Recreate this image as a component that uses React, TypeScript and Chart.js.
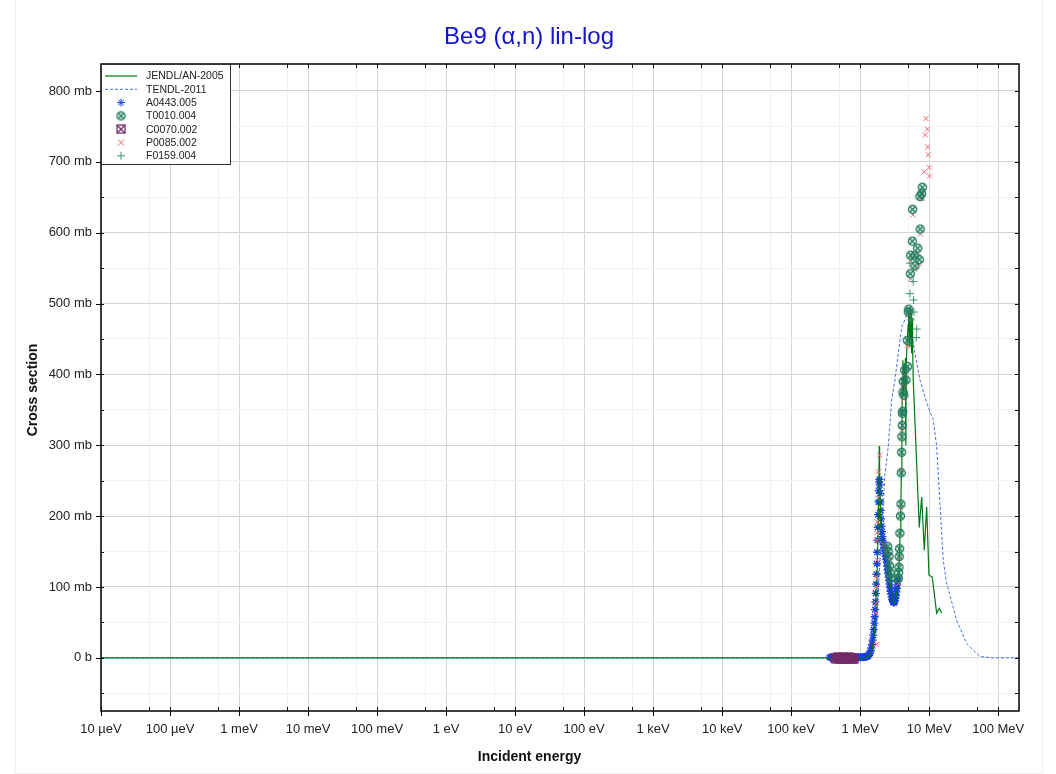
import React, { useEffect, useRef } from 'react';
import { Chart, registerables } from 'chart.js';

Chart.register(...registerables);

const FONT = "'Liberation Sans', Arial, Helvetica, sans-serif";

const titleText = 'Be9 (α,n) lin-log';
const xAxisTitle = 'Incident energy';
const yAxisTitle = 'Cross section';

// x axis (energy in eV)
const xMajorTicks = [1e-5, 1e-4, 1e-3, 1e-2, 1e-1, 1, 10, 100, 1e3, 1e4, 1e5, 1e6, 1e7, 1e8];
const xTickLabels = ['10 µeV', '100 µeV', '1 meV', '10 meV', '100 meV', '1 eV', '10 eV', '100 eV', '1 keV', '10 keV', '100 keV', '1 MeV', '10 MeV', '100 MeV'];
const xMinorTicks = [5e-5, 5e-4, 5e-3, 5e-2, 5e-1, 5, 50, 500, 5e3, 5e4, 5e5, 5e6, 5e7];
const xMin = 1e-5;
const xMax = 2e8;

// y axis (mb)
const yTicks = [-50, 0, 50, 100, 150, 200, 250, 300, 350, 400, 450, 500, 550, 600, 650, 700, 750, 800];
const yMin = -75;
const yMax = 838;

const seriesNames = ['JENDL/AN-2005', 'TENDL-2011', 'A0443.005', 'T0010.004', 'C0070.002', 'P0085.002', 'F0159.004'];

// JENDL/AN-2005 (energy MeV, cross section mb)
const jendlE = [1e-11, 1.0, 1.15, 1.25, 1.35, 1.45, 1.52, 1.58, 1.64, 1.70, 1.75, 1.80, 1.84, 1.87, 1.89, 1.91, 1.94, 1.98, 2.04, 2.12, 2.22, 2.32, 2.42, 2.5, 2.56, 2.62, 2.70, 2.80, 2.92, 3.05, 3.15, 3.28, 3.42, 3.55, 3.64, 3.72, 3.80, 3.88, 3.95, 4.02, 4.08, 4.15, 4.25, 4.35, 4.45, 4.52, 4.58, 4.66, 4.8, 4.95, 5.05, 5.15, 5.25, 5.35, 5.45, 5.55, 5.65, 5.75, 5.87, 7.18, 7.78, 8.48, 9.19, 9.91, 11.07, 12.83, 13.99, 15.1];
const jendlXS = [0, 0, 0.5, 1, 3, 8, 16, 28, 45, 75, 110, 160, 215, 260, 299, 270, 225, 190, 170, 162, 155, 150, 145, 152, 138, 125, 112, 98, 86, 79, 77, 82, 95, 110, 125, 150, 180, 215, 260, 310, 390, 420, 370, 415, 380, 423, 300, 420, 445, 470, 486, 440, 495, 450, 492, 430, 480, 440, 392, 184, 227, 152, 213, 117, 114, 63, 70, 63];

// TENDL-2011
const tendlE = [1e-11, 1.0, 1.26, 1.47, 1.73, 2.05, 2.29, 2.55, 2.86, 3.19, 3.99, 4.98, 6.22, 7.35, 8.69, 10.0, 11.46, 12.83, 15.96, 17.9, 25.0, 34.9, 54.3, 80, 200];
const tendlXS = [0, 0, 1, 6, 53, 180, 260, 298, 364, 392, 467, 488, 430, 392, 368, 350, 336, 298, 138, 105, 53, 20, 2, 0, 0];

// A0443.005
const a0443E = [0.36, 0.375, 0.39, 0.405, 0.42, 0.435, 0.45, 0.465, 0.48, 0.50, 0.52, 0.54, 0.56, 0.58, 0.60, 0.62, 0.645, 0.67, 0.695, 0.72, 0.745, 0.77, 0.80, 0.83, 0.86, 0.89, 0.92, 0.95, 0.985, 1.02, 1.055, 1.09, 1.125, 1.16, 1.195, 1.23,
  1.27, 1.31, 1.35, 1.39, 1.42, 1.45, 1.48, 1.51, 1.54, 1.57, 1.60, 1.62, 1.64, 1.66, 1.68, 1.70, 1.72, 1.74, 1.76, 1.78, 1.80, 1.82, 1.84, 1.86, 1.88, 1.90, 1.92, 1.94, 1.96, 1.98, 2.01, 2.04, 2.07, 2.10, 2.14, 2.18, 2.22, 2.26, 2.30, 2.34, 2.38, 2.42, 2.46, 2.50, 2.54, 2.58, 2.62, 2.66, 2.70, 2.75, 2.80, 2.85, 2.90, 2.95, 3.00, 3.05, 3.10, 3.15, 3.20, 3.25, 3.30, 3.35, 3.40, 3.45, 3.50, 3.55];
const a0443XS = [0.5, 0.8, 0.4, 1.0, 0.6, 0.9, 0.3, 0.7, 1.1, 0.5, 0.8, 0.4, 0.9, 0.6, 1.0, 0.5, 0.7, 0.8, 0.4, 0.9, 0.6, 1.0, 0.7, 0.5, 0.8, 0.6, 0.9, 0.7, 1.0, 0.8, 1.1, 1.0, 1.3, 1.2, 1.5, 1.7,
  2, 3, 5, 7, 10, 14, 19, 25, 32, 40, 49, 58, 68, 79, 91, 104, 118, 133, 149, 166, 184, 202, 220, 236, 248, 252, 244, 232, 220, 208, 196, 186, 178, 171, 165, 160, 155, 151, 147, 143, 139, 134, 129, 124, 119, 114, 109, 104, 99, 94, 90, 86, 83, 81, 79, 78, 78, 79, 81, 84, 88, 93, 98, 103, 108, 112];

// T0010.004
const t0010E = [2.50, 2.55, 2.61, 2.66, 2.72, 2.79, 3.56, 3.60, 3.64, 3.68, 3.72, 3.76, 3.83, 3.90, 3.93, 3.99, 4.03, 4.07, 4.10, 4.13, 4.17, 4.21, 4.27, 4.41, 4.60, 4.86, 4.81, 4.98, 5.05, 5.33, 5.38, 5.70, 5.75, 6.15, 6.22, 6.80, 7.18, 7.40, 7.35, 7.78, 7.93];
const t0010XS = [157, 150, 143, 130, 120, 112, 112, 120, 128, 143, 154, 176, 200, 217, 261, 290, 312, 328, 345, 348, 375, 390, 371, 406, 392, 411, 448, 488, 492, 542, 568, 588, 633, 567, 553, 578, 562, 605, 651, 655, 664];

// C0070.002
const c0070E = [0.43, 0.45, 0.47, 0.49, 0.51, 0.53, 0.55, 0.57, 0.59, 0.61, 0.63, 0.65, 0.67, 0.69, 0.71, 0.73, 0.75, 0.77, 0.79, 0.81];
const c0070XS = [0, -1, 1, 0, -2, 0, -1, 1, 0, -1, 0, -2, 0, 1, -1, 0, 0, -2, 0, -1];

// P0085.002
const p0085E = [1.73, 1.68, 1.69, 1.69, 1.71, 1.75, 1.75, 1.73, 1.77, 1.79, 1.83, 1.91, 2.2, 2.35, 2.52, 2.62, 3.58, 3.7, 3.86, 3.95, 4.05, 4.2, 4.3, 4.43, 4.85, 5.07, 5.35, 5.48, 5.78, 6.2, 6.85, 7.2, 7.45, 7.55, 7.9, 8.05, 8.48, 8.77, 8.98, 9.38, 9.47, 9.68, 10.0, 10.1];
const p0085XS = [19, 63, 77, 100, 114, 138, 166, 176, 192, 225, 263, 286, 160, 150, 150, 138, 105, 140, 212, 265, 322, 385, 365, 400, 440, 486, 535, 560, 625, 548, 572, 556, 598, 648, 648, 655, 686, 738, 761, 746, 721, 710, 692, 680];

// F0159.004
const f0159E = [5.26, 5.87, 5.26, 5.93, 6.01, 5.42, 6.58, 6.50];
const f0159XS = [557, 531, 514, 505, 488, 477, 464, 452];

const colors = {
  jendl: 'rgb(0,120,20)',
  tendl: 'rgb(70,110,230)',
  a0443: 'rgb(25,60,225)',
  t0010: 'rgb(35,125,95)',
  c0070: 'rgb(115,45,105)',
  p0085: 'rgb(240,100,115)',
  f0159: 'rgb(60,145,110)',
};

const toPts = (e: number[], v: number[]) => e.map((x, i) => ({ x: x * 1e6, y: v[i] }));
const isDecade = (v: number) => Math.abs(Math.log10(v) - Math.round(Math.log10(v))) < 1e-6;

function makeCircleX(color: string) {
  const c = document.createElement('canvas');
  c.width = 11; c.height = 11;
  const g = c.getContext('2d')!;
  g.strokeStyle = color; g.lineWidth = 1.5;
  g.beginPath(); g.arc(5.5, 5.5, 4, 0, Math.PI * 2); g.stroke();
  g.beginPath();
  g.moveTo(2.8, 2.8); g.lineTo(8.2, 8.2);
  g.moveTo(8.2, 2.8); g.lineTo(2.8, 8.2);
  g.stroke();
  return c;
}

function makeBoxX(color: string) {
  const c = document.createElement('canvas');
  c.width = 10; c.height = 10;
  const g = c.getContext('2d')!;
  g.strokeStyle = color; g.lineWidth = 1.3;
  g.strokeRect(1, 1, 8, 8);
  g.beginPath();
  g.moveTo(1, 1); g.lineTo(9, 9);
  g.moveTo(9, 1); g.lineTo(1, 9);
  g.stroke();
  return c;
}

export default function App() {
  const ref = useRef<HTMLCanvasElement | null>(null);

  useEffect(() => {
    const canvas = ref.current;
    if (!canvas) return;
    const circleX = makeCircleX(colors.t0010);
    const boxX = makeBoxX(colors.c0070);

    const drawStar = (g: CanvasRenderingContext2D, x: number, y: number, r: number, color: string) => {
      g.save(); g.strokeStyle = color; g.lineWidth = 1; g.beginPath();
      for (let k = 0; k < 4; k++) {
        const a = (k * Math.PI) / 4;
        g.moveTo(x - Math.cos(a) * r, y - Math.sin(a) * r);
        g.lineTo(x + Math.cos(a) * r, y + Math.sin(a) * r);
      }
      g.stroke(); g.restore();
    };
    const drawCross = (g: CanvasRenderingContext2D, x: number, y: number, r: number, color: string, rot: boolean) => {
      g.save(); g.strokeStyle = color; g.lineWidth = 1; g.beginPath();
      if (rot) {
        g.moveTo(x - r, y - r); g.lineTo(x + r, y + r);
        g.moveTo(x + r, y - r); g.lineTo(x - r, y + r);
      } else {
        g.moveTo(x - r, y); g.lineTo(x + r, y);
        g.moveTo(x, y - r); g.lineTo(x, y + r);
      }
      g.stroke(); g.restore();
    };

    const framePlugin = {
      id: 'frameTicksLegend',
      afterDraw(chart: any) {
        const g: CanvasRenderingContext2D = chart.ctx;
        const { left, right, top, bottom } = chart.chartArea;
        const xs = chart.scales.x;
        const ys = chart.scales.y;
        g.save();
        // faint outer frame
        g.strokeStyle = '#f0f0f0'; g.lineWidth = 1;
        g.beginPath();
        g.moveTo(15.5, 0); g.lineTo(15.5, 773.5); g.lineTo(1042.5, 773.5); g.lineTo(1042.5, 0);
        g.stroke();

        // title and axis titles
        g.fillStyle = 'rgb(20,20,205)';
        g.font = `24px ${FONT}`;
        g.textAlign = 'center';
        g.textBaseline = 'alphabetic';
        g.fillText(titleText, 529, 43.5);

        g.fillStyle = '#111';
        g.font = `bold 14px ${FONT}`;
        g.textBaseline = 'middle';
        g.fillText(xAxisTitle, 529.5, 757.5);
        g.save();
        g.translate(33, 390);
        g.rotate(-Math.PI / 2);
        g.fillText(yAxisTitle, 0, 0);
        g.restore();

        g.strokeStyle = '#000'; g.lineWidth = 1;
        g.beginPath();
        for (const v of xMajorTicks) {
          const p = Math.round(xs.getPixelForValue(v)) + 0.5;
          g.moveTo(p, bottom - 4); g.lineTo(p, bottom + 5);
          g.moveTo(p, top); g.lineTo(p, top + 4);
        }
        for (const v of xMinorTicks) {
          const p = Math.round(xs.getPixelForValue(v)) + 0.5;
          g.moveTo(p, bottom - 4); g.lineTo(p, bottom);
          g.moveTo(p, top); g.lineTo(p, top + 4);
        }
        for (const v of yTicks) {
          const p = Math.round(ys.getPixelForValue(v)) + 0.5;
          if (v % 100 === 0) {
            g.moveTo(left - 5, p); g.lineTo(left + 3, p);
            g.moveTo(right - 4, p); g.lineTo(right, p);
          } else {
            g.moveTo(left, p); g.lineTo(left + 3, p);
            g.moveTo(right - 4, p); g.lineTo(right, p);
          }
        }
        g.stroke();
        g.lineWidth = 1.5;
        g.strokeRect(left, top, right - left, bottom - top);

        // legend
        const lx = left, ly = top, lw = 129, lh = 100;
        g.fillStyle = '#fff';
        g.fillRect(lx, ly, lw, lh);
        g.strokeStyle = '#333'; g.lineWidth = 1;
        g.strokeRect(lx + 0.5, ly + 0.5, lw, lh);
        const cx = lx + 20;
        g.font = `10.5px ${FONT}`;
        g.textBaseline = 'middle';
        g.textAlign = 'left';
        seriesNames.forEach((name, i) => {
          const y = ly + 12 + i * 13.3;
          if (i === 0) {
            g.strokeStyle = colors.jendl; g.lineWidth = 1.2; g.setLineDash([]);
            g.beginPath(); g.moveTo(lx + 4, y); g.lineTo(lx + 36, y); g.stroke();
          } else if (i === 1) {
            g.strokeStyle = colors.tendl; g.lineWidth = 1; g.setLineDash([3, 2]);
            g.beginPath(); g.moveTo(lx + 4, y); g.lineTo(lx + 36, y); g.stroke();
            g.setLineDash([]);
          } else if (i === 2) {
            drawStar(g, cx, y, 4, colors.a0443);
          } else if (i === 3) {
            g.drawImage(circleX, cx - 5.5, y - 5.5);
          } else if (i === 4) {
            g.drawImage(boxX, cx - 5, y - 5);
          } else if (i === 5) {
            drawCross(g, cx, y, 3, colors.p0085, true);
          } else {
            drawCross(g, cx, y, 4, colors.f0159, false);
          }
          g.fillStyle = '#222';
          g.fillText(name, lx + 45, y + 0.5);
        });
        g.restore();
      },
    };

    const chart = new Chart(canvas, {
      type: 'scatter',
      data: {
        datasets: [
          { label: seriesNames[0], data: toPts(jendlE, jendlXS), showLine: true, borderColor: colors.jendl, borderWidth: 1.2, pointRadius: 0, tension: 0, order: 4 } as any,
          { label: seriesNames[1], data: toPts(tendlE, tendlXS), showLine: true, borderColor: colors.tendl, borderWidth: 1, borderDash: [3, 2], pointRadius: 0, tension: 0, order: 6 },
          { label: seriesNames[2], data: toPts(a0443E, a0443XS), pointStyle: 'star', pointRadius: 4, borderColor: colors.a0443, backgroundColor: colors.a0443, borderWidth: 1.3, order: 5 },
          { label: seriesNames[3], data: toPts(t0010E, t0010XS), pointStyle: circleX, pointRadius: 4, order: 1 },
          { label: seriesNames[4], data: toPts(c0070E, c0070XS), pointStyle: boxX, pointRadius: 4, order: 3 },
          { label: seriesNames[5], data: toPts(p0085E, p0085XS), pointStyle: 'crossRot', pointRadius: 3.5, borderColor: colors.p0085, borderWidth: 1, order: 2 },
          { label: seriesNames[6], data: toPts(f0159E, f0159XS), pointStyle: 'cross', pointRadius: 4, borderColor: colors.f0159, borderWidth: 1, order: 0 },
        ],
      },
      options: {
        animation: false,
        responsive: false,
        devicePixelRatio: 1,
        layout: { padding: { left: 0, right: 37, top: 64, bottom: 0 } },
        plugins: {
          legend: { display: false },
          tooltip: { enabled: false },
          title: { display: false },
        },
        scales: {
          x: {
            type: 'logarithmic',
            min: xMin,
            max: xMax,
            afterBuildTicks: (s: any) => {
              s.ticks = [...xMajorTicks, ...xMinorTicks].sort((a, b) => a - b).map((v) => ({ value: v }));
            },
            afterFit: (s: any) => { s.height = 63; },
            border: { display: false },
            grid: {
              drawTicks: false,
              lineWidth: 1,
              color: (c: any) => (c.tick && isDecade(c.tick.value) ? '#d4d4d4' : '#f1f1f1'),
            },
            ticks: {
              autoSkip: false,
              maxRotation: 0,
              padding: 11,
              color: '#222',
              font: { family: FONT, size: 13 },
              callback: (v: any) => {
                const n = Number(v);
                if (!isDecade(n)) return '';
                const idx = Math.round(Math.log10(n)) + 5;
                return xTickLabels[idx] ?? '';
              },
            },
            title: { display: false },
          },
          y: {
            type: 'linear',
            min: yMin,
            max: yMax,
            afterBuildTicks: (s: any) => {
              s.ticks = yTicks.map((v) => ({ value: v }));
            },
            afterFit: (s: any) => { s.width = 101; },
            border: { display: false },
            grid: {
              drawTicks: false,
              lineWidth: 1,
              color: (c: any) => (c.tick && c.tick.value % 100 === 0 ? '#d4d4d4' : '#f1f1f1'),
            },
            ticks: {
              autoSkip: false,
              padding: 9,
              color: '#222',
              font: { family: FONT, size: 13 },
              callback: (v: any) => {
                const n = Number(v);
                if (n === 0) return '0 b';
                return n % 100 === 0 ? `${n} mb` : '';
              },
            },
            title: { display: false },
          },
        },
      },
      plugins: [framePlugin],
    });

    return () => chart.destroy();
  }, []);

  return (
    <div style={{ position: 'absolute', left: 0, top: 0, width: 1056, height: 774, background: '#fff' }}>
      <canvas ref={ref} width={1056} height={774} style={{ display: 'block' }} />
    </div>
  );
}
